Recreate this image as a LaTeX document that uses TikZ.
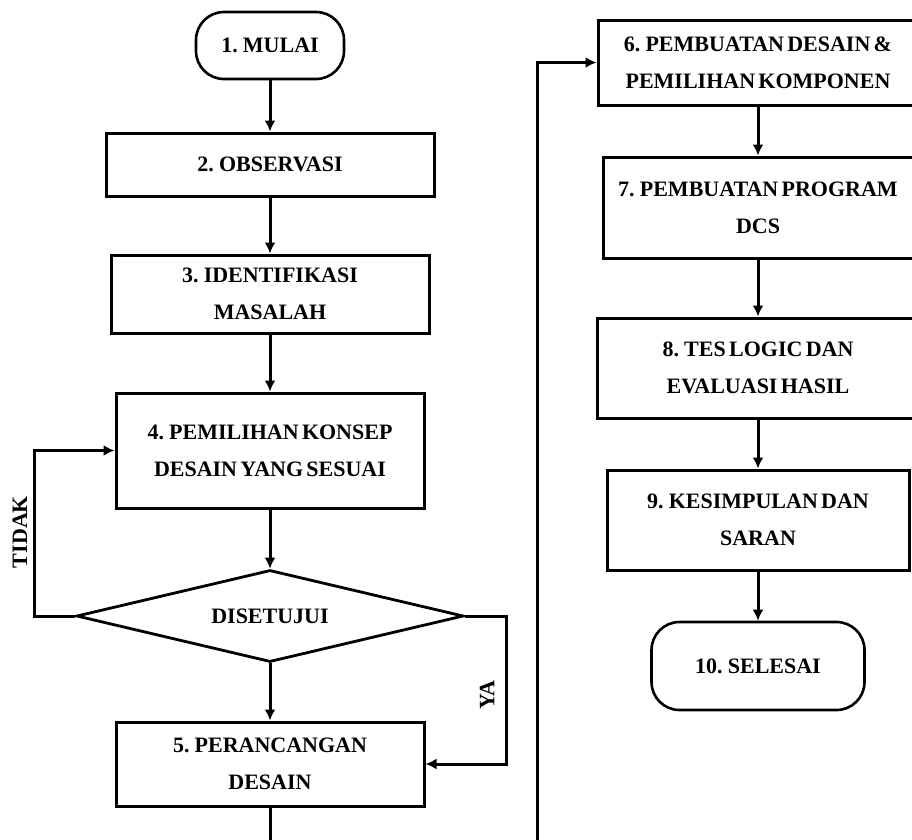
\documentclass[tikz,border=0pt]{standalone}
\usepackage{fontspec}
\setmainfont{Liberation Serif}[WordSpace=0.6]
\usepackage{tikz}
\usetikzlibrary{arrows.meta,calc,positioning,shapes}

\tikzset
{
	every node/.style =
	{
		font		= \fontsize{22}{37}\selectfont\bfseries,
		align		= center,
		inner sep	= 0pt
	},
	kotak/.style 2 args =
	{
		draw,
		line width		= 3pt,
		minimum width	= #1,
		minimum height	= #2
	},
	terminal/.style 2 args =
	{
		draw,
		line width		= 2.6pt,
		rounded corners	= 28pt,
		minimum width	= #1,
		minimum height	= #2
	},
	keputusan/.style =
	{
		diamond,
		draw,
		aspect			= 4.2,
		line width		= 2.8pt,
		minimum width	= 387pt,
		minimum height	= 92pt
	},
	panah/.style =
	{
		line width		= 3pt,
		-{Latex[length=11pt,width=11pt]}
	}
}

\begin{document}
\begin{tikzpicture}[x=1pt,y=-1pt]
		%
		\useasboundingbox (0,0) rectangle (912,839);
		\clip (0,0) rectangle (912,839);
		%
		% kolom kiri
		\node[terminal={148pt}{67pt}]	(mulai)			at (270,45.5)	{1. MULAI};
		\node[kotak={328pt}{63pt}]		(observasi)		at (270,164.5)	{2. OBSERVASI};
		\node[kotak={318pt}{78pt}]		(identifikasi)	at (270,294)	{3. IDENTIFIKASI\\MASALAH};
		\node[kotak={308pt}{115pt}]		(konsep)		at (270,450.5)	{4. PEMILIHAN KONSEP\\DESAIN YANG SESUAI};
		\node[keputusan]				(disetujui)		at (270,616)	{DISETUJUI};
		\node[kotak={308pt}{84pt}]		(perancangan)	at (270,764)	{5. PERANCANGAN\\DESAIN};
		%
		% kolom kanan
		\node[kotak={320pt}{85pt}]		(desain)		at (758,62.5)	{6. PEMBUATAN DESAIN \&\\PEMILIHAN KOMPONEN};
		\node[kotak={310pt}{101pt}]		(program)		at (758,207.5)	{7. PEMBUATAN PROGRAM\\DCS};
		\node[kotak={322pt}{100pt}]		(evaluasi)		at (758,368)	{8. TES LOGIC DAN\\EVALUASI HASIL};
		\node[kotak={302pt}{100pt}]		(kesimpulan)	at (758,520)	{9. KESIMPULAN DAN\\SARAN};
		\node[terminal={213pt}{88pt}]	(selesai)		at (758,666)	{10. SELESAI};
		%
		% label cabang
		\node[rotate=90]	(tidak)	at (20,532)		{TIDAK};
		\node[rotate=90]	(ya)	at (487,695)	{YA};
		%
		% panah
		\draw[panah] (mulai) -- (observasi);
		\draw[panah] (observasi) -- (identifikasi);
		\draw[panah] (identifikasi) -- (konsep);
		\draw[panah] (konsep) -- (disetujui);
		\draw[panah] (disetujui) -- (perancangan);
		\draw[panah] (disetujui.west) -- ++(-41,0) |- (konsep.west);
		\draw[panah] (disetujui.east) -- ++(42,0) |- (perancangan.east);
		%
		\coordinate (belok) at (537,880);
		\draw[panah] (perancangan.south) |- (belok) |- (desain.west);
		%
		\draw[panah] (desain) -- (program);
		\draw[panah] (program) -- (evaluasi);
		\draw[panah] (evaluasi) -- (kesimpulan);
		\draw[panah] (kesimpulan) -- (selesai);
		%
	\end{tikzpicture}
\end{document}
